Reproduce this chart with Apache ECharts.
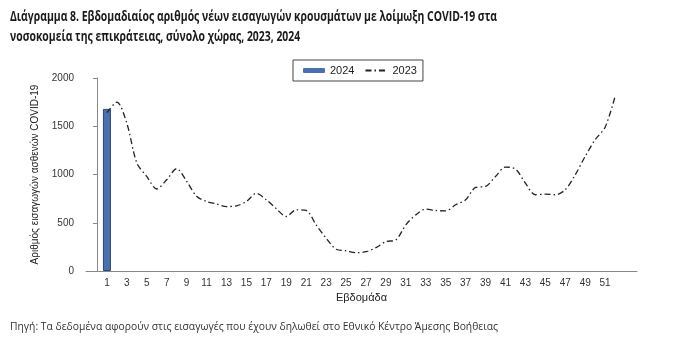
<!DOCTYPE html>
<html>
<head>
<meta charset="utf-8">
<script src="https://cdn.jsdelivr.net/npm/echarts@6/dist/echarts.min.js"></script>
<style>
html,body{margin:0;padding:0;background:#fff;}
#c{width:696px;height:356px;}
</style>
</head>
<body>
<div id="c"></div>
<script>
// Weeks
var weeks = [];
for (var w = 1; w <= 52; w++) weeks.push(w);
// Tick labels on x axis
var xTickLabels = [1,3,5,7,9,11,13,15,17,19,21,23,25,27,29,31,33,35,37,39,41,43,45,47,49,51];
var yTickLabels = [0,500,1000,1500,2000];
// 2024 series (week 1 only)
var weeks2024 = [1];
var values2024 = [1680];
// 2023 series, weeks 1..52
var values2023 = [1640,1750,1530,1120,980,850,945,1060,930,775,
                  720,695,668,675,720,805,738,645,565,634,
                  627,478,340,225,210,190,200,242,305,322,
                  478,582,641,627,623,686,738,866,876,980,
                  1077,1057,911,790,797,790,842,997,1188,1361,
                  1490,1810];
var titleLines = ['Διάγραμμα 8. Εβδομαδιαίος αριθμός νέων εισαγωγών κρουσμάτων με λοίμωξη COVID-19 στα',
                  'νοσοκομεία της επικράτειας, σύνολο χώρας, 2023, 2024'];
var sourceText = 'Πηγή: Τα δεδομένα αφορούν στις εισαγωγές που έχουν δηλωθεί στο Εθνικό Κέντρο Άμεσης Βοήθειας';

var font = '"Liberation Sans", Arial, sans-serif';
var titleFamily = '"Open Sans", sans-serif';

var ctx = document.createElement('canvas').getContext('2d');
ctx.font = 'bold 15px ' + titleFamily;
var titleScale = 487 / ctx.measureText(titleLines[0]).width;
ctx.font = 'normal 11px ' + titleFamily;
var srcScale = 488 / ctx.measureText(sourceText).width;

var chart = echarts.init(document.getElementById('c'));
chart.setOption({
  animation:false,
  backgroundColor:'#fff',
  graphic:[
    {type:'text', x:10, y:9, scaleX:titleScale,
     style:{text:titleLines[0], fontFamily:titleFamily, fontWeight:'bold', fontSize:15, fill:'#1a1a1a', verticalAlign:'top'}},
    {type:'text', x:10, y:29, scaleX:titleScale,
     style:{text:titleLines[1], fontFamily:titleFamily, fontWeight:'bold', fontSize:15, fill:'#1a1a1a', verticalAlign:'top'}},
    {type:'text', x:10, y:321, scaleX:srcScale,
     style:{text:sourceText, fontFamily:titleFamily, fontWeight:'normal', fontSize:11, fill:'#333', verticalAlign:'top'}}
  ],
  legend:{
    top:60, left:293,
    borderColor:'#444', borderWidth:1, borderRadius:0,
    padding:[5,6,5,10],
    itemGap:10,
    textStyle:{fontFamily:font,fontSize:11,color:'#222'},
    data:[
      {name:'2024', icon:'roundRect', itemStyle:{color:'#4a70b0',borderWidth:0}},
      {name:'2023', itemStyle:{opacity:0}}
    ],
    itemWidth:22, itemHeight:5
  },
  grid:{left:86,right:59,top:78,bottom:85},
  xAxis:{
    type:'value', min:-1.1, max:54.2,
    name:'Εβδομάδα', nameLocation:'middle', nameGap:18,
    nameTextStyle:{fontFamily:font,fontSize:11,color:'#222'},
    axisLine:{show:true,onZero:false,lineStyle:{color:'#888'}},
    axisTick:{show:false},
    splitLine:{show:false},
    axisLabel:{customValues:xTickLabels,fontFamily:font,fontSize:10,color:'#333',margin:7}
  },
  yAxis:{
    type:'value', min:0, max:2000, interval:500,
    name:'Αριθμός εισαγωγών ασθενών COVID-19', nameLocation:'middle', nameGap:46,
    nameTextStyle:{fontFamily:font,fontSize:10,color:'#222'},
    axisLine:{show:true,lineStyle:{color:'#888'}},
    axisTick:{show:true,length:4,lineStyle:{color:'#888'}},
    splitLine:{show:false},
    axisLabel:{customValues:yTickLabels,fontFamily:font,fontSize:10,color:'#333',margin:12,
      formatter:function(v){return String(v);}}
  },
  series:[
    {
      name:'2024', type:'bar', barWidth:8,
      data:weeks2024.map(function(w,i){return [w, values2024[i]];}),
      itemStyle:{color:'#4a70b0',borderColor:'#2c4770',borderWidth:1}
    },
    {
      name:'2023', type:'line', symbol:'none', smooth:0.3,
      data:weeks.map(function(w,i){return [w, values2023[i]];}),
      lineStyle:{color:'#222',width:1.3,type:[6,3,1.5,3]},
      itemStyle:{color:'#222'}
    }
  ]
});
</script>
</body>
</html>
